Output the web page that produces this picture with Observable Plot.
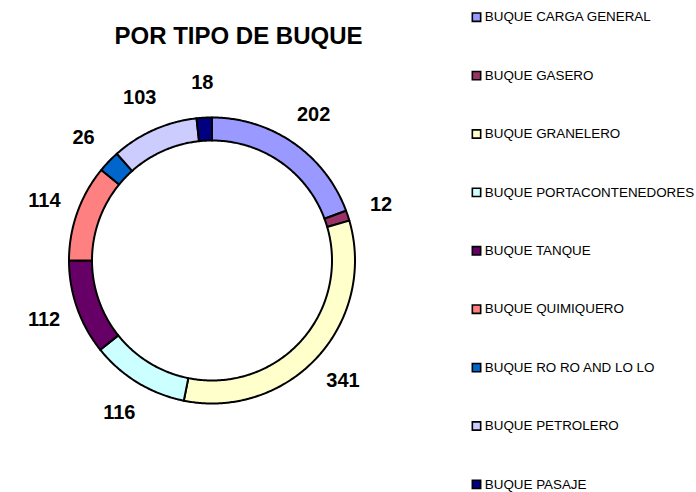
<!DOCTYPE html>
<html>
<head>
<meta charset="utf-8">
<script src="https://cdn.jsdelivr.net/npm/d3@7"></script>
<script src="https://cdn.jsdelivr.net/npm/@observablehq/plot@0.6"></script>
<style>
  html, body { margin: 0; padding: 0; background: #fff; }
  #chart { width: 696px; height: 492px; }
</style>
</head>
<body>
<div id="chart"></div>
<script>
const title = "POR TIPO DE BUQUE";
const categories = [
  "BUQUE CARGA GENERAL",
  "BUQUE GASERO",
  "BUQUE GRANELERO",
  "BUQUE PORTACONTENEDORES",
  "BUQUE TANQUE",
  "BUQUE QUIMIQUERO",
  "BUQUE RO RO AND LO LO",
  "BUQUE PETROLERO",
  "BUQUE PASAJE"
];
const values = [202, 12, 341, 116, 112, 114, 26, 103, 18];
const colors = ["#9999FF", "#993366", "#FFFFCC", "#CCFFFF", "#660066", "#FF8080", "#0066CC", "#CCCCFF", "#000080"];

// layout
const W = 696, H = 492;
const cx = 211.5, cy = 260, rOuter = 143, rInner = 120, rLabel = 178;
const font = "'Liberation Sans', Arial, sans-serif";

const pie = d3.pie().sort(null).value(d => d.value);
const table = categories.map((c, i) => ({cat: c, value: values[i], color: colors[i], i}));
const arcs = pie(table);

// ring slice outlines
const ringPts = [];
for (const a of arcs) {
  const n = Math.max(4, Math.ceil((a.endAngle - a.startAngle) / 0.01));
  for (let k = 0; k <= n; k++) {
    const t = a.startAngle + (a.endAngle - a.startAngle) * k / n;
    ringPts.push({cat: a.data.cat, color: a.data.color, x: cx + rOuter * Math.sin(t), y: cy - rOuter * Math.cos(t)});
  }
  for (let k = n; k >= 0; k--) {
    const t = a.startAngle + (a.endAngle - a.startAngle) * k / n;
    ringPts.push({cat: a.data.cat, color: a.data.color, x: cx + rInner * Math.sin(t), y: cy - rInner * Math.cos(t)});
  }
}

const labels = arcs.map(a => {
  const m = (a.startAngle + a.endAngle) / 2;
  return {text: String(a.data.value), x: cx + rLabel * Math.sin(m), y: cy - rLabel * Math.cos(m)};
});

const legendX = 476, legendY0 = 16.7, legendStep = 58.4;
const legend = table.map((d, i) => ({cat: d.cat, color: d.color, x: legendX, y: legendY0 + i * legendStep}));

const chart = Plot.plot({
  width: W,
  height: H,
  margin: 0,
  x: {domain: [0, W], range: [0, W], axis: null},
  y: {domain: [0, H], range: [0, H], axis: null},
  color: {type: "identity"},
  style: {fontFamily: font, background: "#fff"},
  marks: [
    Plot.line(ringPts, {x: "x", y: "y", z: "cat", fill: "color", stroke: "#000", strokeWidth: 2, curve: "linear-closed", strokeLinejoin: "round"}),
    Plot.text(labels, {x: "x", y: "y", text: "text", fontSize: 20, fontWeight: "bold", fill: "#000", fontFamily: font}),
    Plot.text([title], {x: () => 238, y: () => 36, text: d => d, fontSize: 24, fontWeight: "bold", fill: "#000", fontFamily: font}),
    Plot.dot(legend, {x: "x", y: "y", symbol: "square", r: 4.7, fill: "color", stroke: "#000", strokeWidth: 1.6}),
    Plot.text(legend, {x: d => d.x + 8.3, y: "y", text: "cat", textAnchor: "start", fontSize: 13.4, fill: "#000", fontFamily: font})
  ]
});
document.getElementById("chart").appendChild(chart);
</script>
</body>
</html>
